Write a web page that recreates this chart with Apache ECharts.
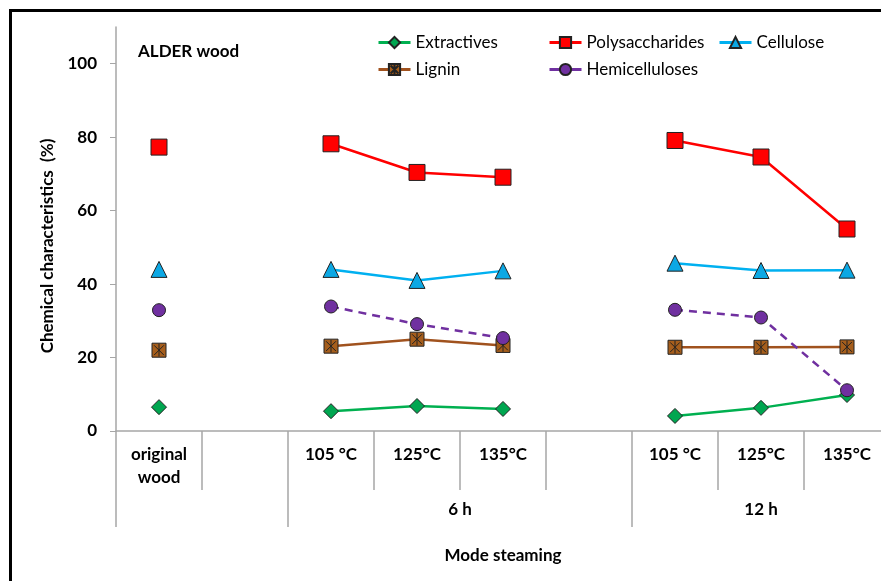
<!DOCTYPE html>
<html>
<head>
<meta charset="utf-8">
<script src="https://cdn.jsdelivr.net/npm/echarts@6/dist/echarts.min.js"></script>
<style>html,body{margin:0;padding:0;background:#fff;overflow:hidden}#c{width:890px;height:581px}</style>
</head>
<body>
<div id="c"></div>
<script>
// ---- data ----
const categories = ['original\nwood', '', '105 °C', '125°C', '135°C', '', '105 °C', '125°C', '135°C'];
const groupLabels = ['6 h', '12 h'];
const yTicks = [0, 20, 40, 60, 80, 100];
const extractives     = [6.5, null, 5.4, 6.8, 6.0, null, 4.1, 6.3, 9.8];
const polysaccharides = [77.3, null, 78.2, 70.4, 69.1, null, 79.1, 74.6, 55.0];
const cellulose       = [44.0, null, 44.0, 41.0, 43.6, null, 45.7, 43.7, 43.8];
const lignin          = [22.0, null, 23.1, 25.0, 23.3, null, 22.8, 22.8, 22.9];
const hemicelluloses  = [32.9, null, 33.9, 29.1, 25.3, null, 33.0, 30.9, 11.1];

const FONT = 'Lato';
const FS = 17;
const axisGray = '#A6A6A6';
const ligninSymbol = 'path://M0,0H10V10H0Z M1.5,1.5L8.5,8.5 M8.5,1.5L1.5,8.5 M5,0.5V9.5';

function mk(name, data, color, fill, symbol, size, dashed) {
  return {
    name: name, type: 'line', data: data, connectNulls: false,
    symbol: symbol, symbolSize: size, showSymbol: true,
    lineStyle: { color: color, width: 2.5, type: dashed ? [8, 6] : 'solid' },
    itemStyle: { color: fill, borderColor: '#222', borderWidth: 1 },
    emphasis: { disabled: true },
    z: 3
  };
}

const chart = echarts.init(document.getElementById('c'), null, { renderer: 'canvas' });
chart.setOption({
  animation: false,
  backgroundColor: '#fff',
  textStyle: { fontFamily: FONT },
  graphic: [{
    type: 'rect', left: 8, top: 8, silent: true,
    shape: { x: 0, y: 0, width: 900, height: 600 },
    style: { fill: 'none', stroke: '#000', lineWidth: 3 }
  }, {
    type: 'text', x: 48, y: 246, rotation: Math.PI / 2, silent: true,
    style: {
      text: 'Chemical characteristics  (%)', fill: '#000',
      font: 'bold ' + FS + 'px ' + FONT, align: 'center', verticalAlign: 'middle'
    }
  }],
  title: {
    text: 'ALDER wood', left: 133, top: 38,
    textStyle: { fontFamily: FONT, fontWeight: 'bold', fontSize: FS, color: '#000' }
  },
  legend: [
    { data: ['Extractives', 'Lignin'], orient: 'vertical', left: 372, top: 29 },
    { data: ['Polysaccharides', 'Hemicelluloses'], orient: 'vertical', left: 543, top: 29 },
    { data: ['Cellulose'], orient: 'vertical', left: 713, top: 29 }
  ].map(l => Object.assign(l, {
    itemWidth: 32, itemHeight: 14, itemGap: 10,
    lineStyle: { type: 'solid', width: 3 },
    textStyle: { fontFamily: FONT, fontSize: FS, color: '#000' }
  })),
  grid: { left: 116, right: 0, top: 27, bottom: 150, containLabel: false },
  xAxis: [{
    type: 'category',
    data: categories.map((c, i) => String(i)),
    boundaryGap: true,
    axisLine: { lineStyle: { color: axisGray, width: 1.5 } },
    axisTick: { show: true, interval: 0, length: 59, lineStyle: { color: axisGray, width: 1.5 } },
    axisLabel: {
      interval: 0, margin: 12, color: '#000', fontFamily: FONT, fontWeight: 'bold', fontSize: FS, lineHeight: 23,
      formatter: (v, i) => categories[i]
    },
    splitLine: { show: false }
  }, {
    type: 'value', min: 0, max: 9, position: 'bottom', offset: 96,
    axisLine: { show: false },
    axisTick: { show: true, inside: true, length: 96, customValues: [0, 2, 6], lineStyle: { color: axisGray, width: 1.5 } },
    axisLabel: {
      inside: true, margin: 9, customValues: [4, 7.5], color: '#000', fontFamily: FONT, fontWeight: 'bold', fontSize: FS,
      formatter: v => (v === 4 ? groupLabels[0] : groupLabels[1])
    },
    splitLine: { show: false },
    name: 'Mode steaming', nameLocation: 'middle', nameGap: 20,
    nameTextStyle: { color: '#000', fontFamily: FONT, fontWeight: 'bold', fontSize: FS }
  }],
  yAxis: {
    type: 'value', min: 0, max: 110,
    axisLine: { show: true, lineStyle: { color: axisGray, width: 1.5 } },
    axisTick: { show: true, length: 6, customValues: yTicks, lineStyle: { color: axisGray } },
    axisLabel: { customValues: yTicks, margin: 19, color: '#000', fontFamily: FONT, fontWeight: 'bold', fontSize: FS },
    splitLine: { show: false }
  },
  series: [
    mk('Extractives', extractives, '#00B050', '#00A650', 'diamond', 15, false),
    mk('Polysaccharides', polysaccharides, '#FF0000', '#FF0000', 'rect', 16, false),
    mk('Cellulose', cellulose, '#00B0F0', '#0CA8E4', 'triangle', 16, false),
    mk('Lignin', lignin, '#A0521E', '#A65E1C', ligninSymbol, 14, false),
    mk('Hemicelluloses', hemicelluloses, '#7030A0', '#7030A0', 'circle', 13, true)
  ]
});
</script>
</body>
</html>
